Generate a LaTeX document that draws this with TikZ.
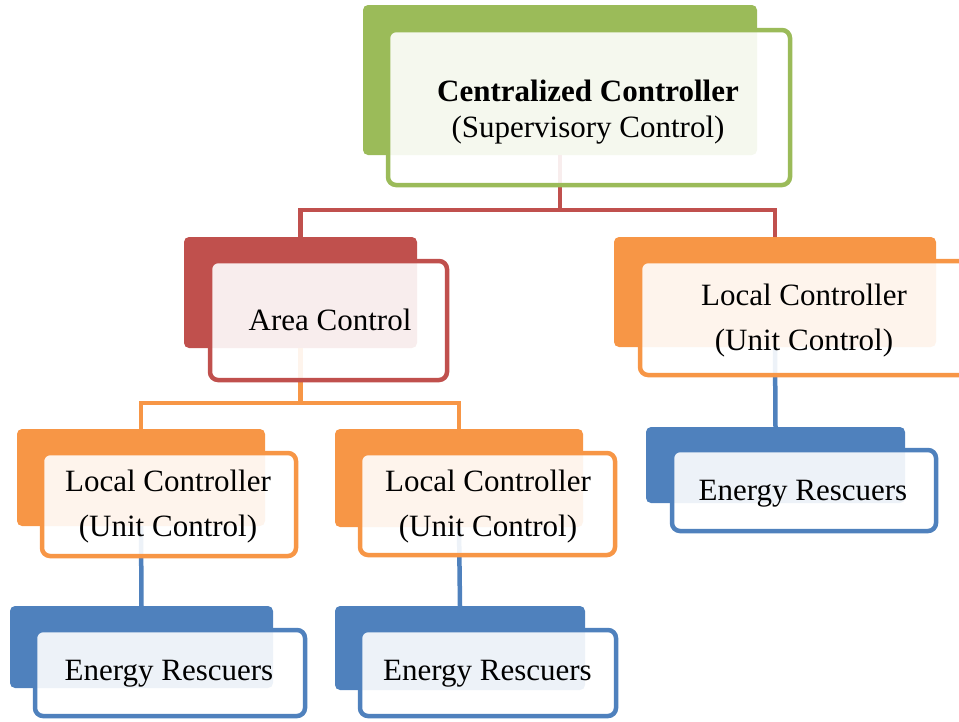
\documentclass[tikz,border=0pt]{standalone}
\usepackage{fontspec}
\setmainfont{Liberation Serif}
\definecolor{cgreen}{HTML}{9BBB59}
\definecolor{cred}{HTML}{C0504D}
\definecolor{corange}{HTML}{F79646}
\definecolor{cblue}{HTML}{4F81BD}
\tikzset{
  backbox/.style={rectangle, rounded corners=5pt, inner sep=0pt, outer sep=0pt, fill=#1, draw=none},
  frontbox/.style={rectangle, rounded corners=8pt, inner sep=0pt, outer sep=0pt, draw=#1, line width=4.5pt, fill=white, fill opacity=0.9, draw opacity=1},
  label/.style={inner sep=0pt, align=center, text=black, font=\fontsize{31}{45}\selectfont},
  link/.style={draw=#1, line width=4.5pt},
}
\begin{document}
\begin{tikzpicture}[x=1pt,y=-1pt]
\useasboundingbox (0,0) rectangle (959,721);

% back plates (solid colour)
\node[backbox=cgreen, minimum width=394pt, minimum height=150pt] (topB) at (560,80) {};
\node[backbox=cred, minimum width=233pt, minimum height=111pt] (areaB) at (300.5,292.5) {};
\node[backbox=corange, minimum width=322pt, minimum height=110pt] (locRB) at (775,292) {};
\node[backbox=cblue, minimum width=259pt, minimum height=76pt] (erRB) at (775.5,465) {};
\node[backbox=corange, minimum width=248pt, minimum height=97pt] (locLB) at (141,477.5) {};
\node[backbox=cblue, minimum width=263pt, minimum height=82pt] (erLB) at (141.5,647) {};
\node[backbox=corange, minimum width=248pt, minimum height=98pt] (locMB) at (459,478) {};
\node[backbox=cblue, minimum width=250pt, minimum height=84pt] (erMB) at (460,648) {};

% connectors (drawn under the front panels)
\coordinate (j1) at (560,210);
\coordinate (j2) at (300.5,403);
\draw[link=cred] (topB.south) -- (j1) -| (areaB.north);
\draw[link=cred] (j1) -| (locRB.north);
\draw[link=corange] (areaB.south) -- (j2) -| (locLB.north);
\draw[link=corange] (j2) -| (locMB.north);
\draw[link=cblue] (locLB.south) -- (erLB.north);
\draw[link=cblue] (locMB.south) -- (erMB.north);
\draw[link=cblue] (locRB.south) -- (erRB.north);

% front panels
\node[frontbox=cgreen, minimum width=402pt, minimum height=155pt] (topF) at (589,107.5) {};
\node[frontbox=cred, minimum width=237pt, minimum height=119pt] (areaF) at (328.5,320.5) {};
\node[frontbox=corange, minimum width=328pt, minimum height=114pt] (locRF) at (804,318) {};
\node[frontbox=cblue, minimum width=264pt, minimum height=81pt] (erRF) at (804,490.5) {};
\node[frontbox=corange, minimum width=254pt, minimum height=103pt] (locLF) at (169,504.5) {};
\node[frontbox=cblue, minimum width=270pt, minimum height=86pt] (erLF) at (170,673) {};
\node[frontbox=corange, minimum width=255pt, minimum height=102pt] (locMF) at (487.5,504) {};
\node[frontbox=cblue, minimum width=256pt, minimum height=86pt] (erMF) at (488,673) {};

% texts
\node[label, font=\fontsize{31}{36}\selectfont] (topT) at (588,112) {\textbf{Centralized Controller}\\(Supervisory Control)};
\node[label] (areaT) at (330,320) {Area Control};
\node[label] (locRT) at (804,321) {Local Controller\\(Unit Control)};
\node[label] (erRT) at (803,494) {Energy Rescuers};
\node[label] (locLT) at (168,507) {Local Controller\\(Unit Control)};
\node[label] (erLT) at (169,674) {Energy Rescuers};
\node[label] (locMT) at (488,507) {Local Controller\\(Unit Control)};
\node[label] (erMT) at (487.5,674) {Energy Rescuers};
\end{tikzpicture}
\end{document}
